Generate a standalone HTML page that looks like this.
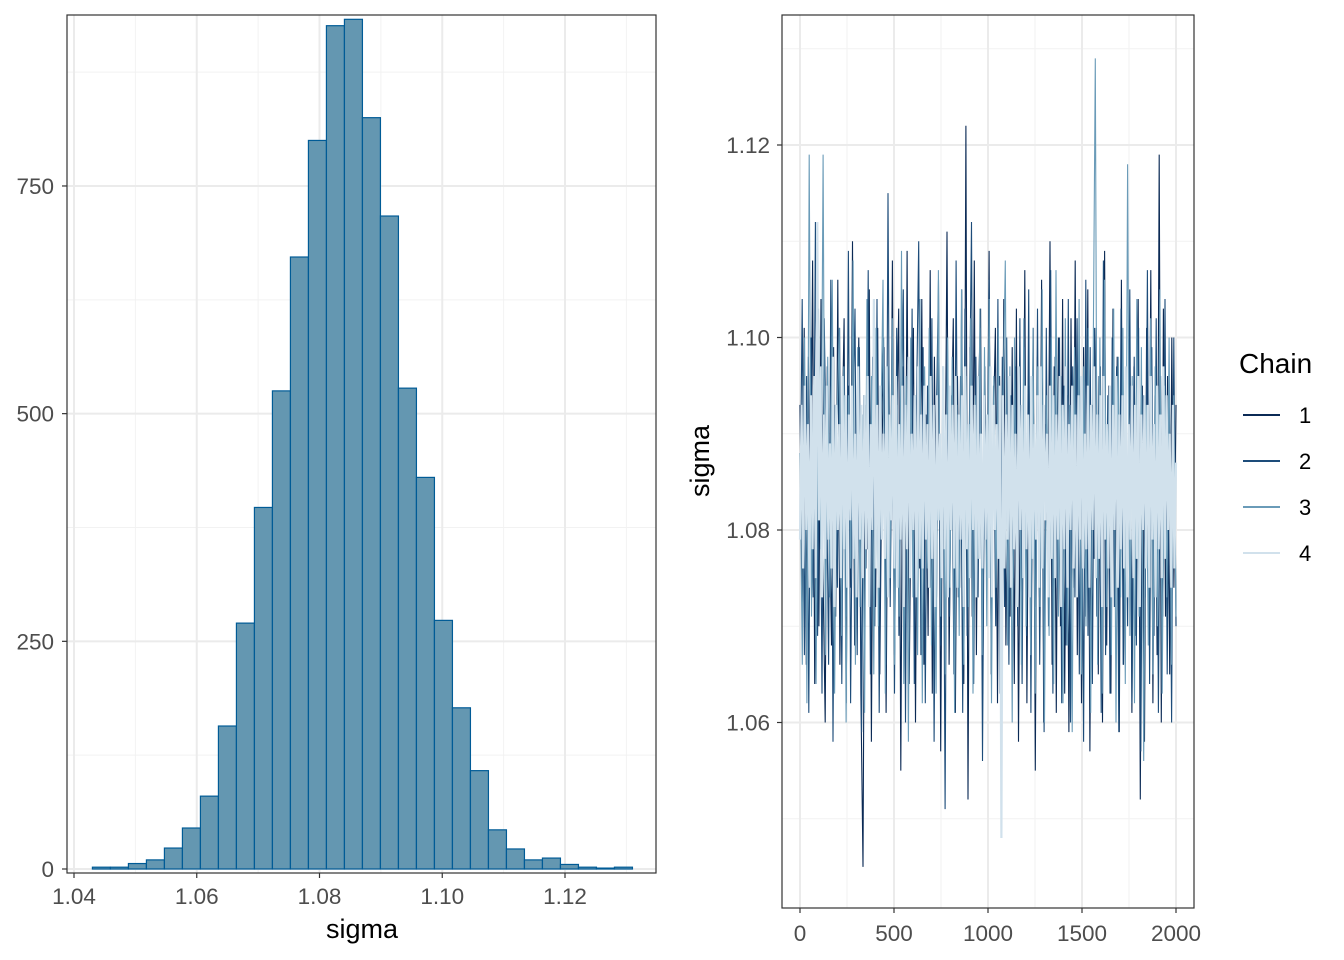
<!DOCTYPE html>
<html><head><meta charset="utf-8"><style>
html,body{margin:0;padding:0;background:#fff;}
svg{display:block;font-family:"Liberation Sans",sans-serif;}
</style></head><body>
<svg id="chart" width="1344" height="960" viewBox="0 0 1344 960">
<g id="hist"></g>
<g id="trace"></g>
<g id="legend">
<text x="1239" y="373" font-size="28" fill="#000">Chain</text>
</g>
</svg>
<script>
// Histogram data
const binStart = 1.0430;
const binWidth = 0.002933;
const histCounts = [2,2,6,10,23,45,80,157,270,397,525,672,800,926,933,825,717,528,430,273,177,108,43,22,10,12,5,2,1,2];
const histXTicks = [1.04,1.06,1.08,1.10,1.12];
const histXTickLabels = ["1.04","1.06","1.08","1.10","1.12"];
const histYTicks = [0,250,500,750];
// Trace data (thinned draws per chain)
const traceXTicks = [0,500,1000,1500,2000];
const traceYTicks = [1.06,1.08,1.10,1.12];
const traceYTickLabels = ["1.06","1.08","1.10","1.12"];
const nIter = 2000;
const chain1 = [1.093,1.072,1.101,1.066,1.098,1.079,1.108,1.064,1.091,1.070,1.104,1.075,1.060,1.097,1.083,1.068,1.099,1.071,1.106,1.066,1.089,1.102,1.062,1.095,1.074,1.110,1.068,1.087,1.100,1.063,1.045,1.093,1.078,1.105,1.058,1.096,1.072,1.101,1.065,1.088,1.099,1.061,1.094,1.077,1.108,1.067,1.090,1.103,1.055,1.097,1.070,1.109,1.064,1.086,1.101,1.060,1.095,1.076,1.104,1.066,1.092,1.069,1.107,1.063,1.098,1.073,1.100,1.057,1.093,1.080,1.111,1.066,1.089,1.102,1.061,1.096,1.074,1.105,1.064,1.122,1.052,1.099,1.071,1.108,1.067,1.094,1.103,1.063,1.097,1.078,1.109,1.065,1.090,1.101,1.062,1.096,1.073,1.104,1.068,1.087,1.071,1.099,1.064,1.103,1.058,1.092,1.076,1.107,1.062,1.095,1.069,1.101,1.055,1.098,1.073,1.106,1.060,1.091,1.078,1.110,1.066,1.097,1.061,1.100,1.070,1.104,1.063,1.094,1.059,1.102,1.074,1.108,1.067,1.096,1.062,1.099,1.071,1.105,1.057,1.093,1.077,1.101,1.065,1.097,1.060,1.109,1.068,1.095,1.063,1.103,1.072,1.098,1.059,1.106,1.066,1.092,1.075,1.100,1.061,1.097,1.069,1.104,1.052,1.095,1.058,1.101,1.073,1.107,1.062,1.094,1.067,1.119,1.060,1.103,1.071,1.096,1.065,1.100,1.074,1.093];
const chain2 = [1.080,1.104,1.067,1.096,1.061,1.100,1.073,1.112,1.069,1.095,1.063,1.102,1.087,1.066,1.106,1.058,1.093,1.074,1.101,1.064,1.097,1.071,1.109,1.062,1.090,1.103,1.067,1.099,1.059,1.094,1.076,1.107,1.065,1.098,1.070,1.104,1.061,1.092,1.100,1.066,1.115,1.072,1.096,1.063,1.101,1.069,1.088,1.105,1.060,1.097,1.075,1.103,1.064,1.093,1.110,1.067,1.099,1.062,1.095,1.074,1.102,1.058,1.091,1.106,1.068,1.097,1.051,1.100,1.071,1.094,1.065,1.108,1.073,1.096,1.061,1.103,1.069,1.090,1.112,1.064,1.098,1.073,1.101,1.056,1.093,1.076,1.106,1.066,1.095,1.070,1.104,1.063,1.098,1.072,1.100,1.066,1.094,1.075,1.097,1.070,1.102,1.064,1.099,1.069,1.105,1.061,1.096,1.072,1.103,1.066,1.094,1.059,1.101,1.070,1.107,1.063,1.098,1.074,1.100,1.062,1.095,1.068,1.104,1.060,1.097,1.073,1.102,1.065,1.093,1.058,1.106,1.069,1.099,1.064,1.101,1.071,1.096,1.061,1.108,1.067,1.094,1.063,1.100,1.072,1.097,1.059,1.103,1.066,1.095,1.070,1.105,1.062,1.098,1.068,1.101,1.057,1.094,1.073,1.107,1.064,1.099,1.069,1.102,1.061,1.096,1.071,1.104,1.065,1.093,1.060,1.100,1.070];
const chain3 = [1.088,1.066,1.100,1.062,1.119,1.071,1.095,1.064,1.103,1.078,1.119,1.067,1.098,1.073,1.106,1.063,1.091,1.101,1.069,1.097,1.060,1.094,1.076,1.108,1.066,1.099,1.072,1.092,1.061,1.104,1.074,1.096,1.065,1.101,1.070,1.089,1.106,1.063,1.097,1.075,1.102,1.066,1.093,1.071,1.109,1.064,1.096,1.058,1.100,1.073,1.094,1.067,1.104,1.062,1.097,1.076,1.101,1.068,1.092,1.063,1.107,1.071,1.095,1.065,1.100,1.074,1.098,1.061,1.093,1.069,1.105,1.066,1.096,1.072,1.102,1.063,1.094,1.077,1.103,1.067,1.099,1.070,1.104,1.062,1.096,1.074,1.101,1.065,1.093,1.108,1.068,1.097,1.060,1.100,1.073,1.095,1.066,1.102,1.070,1.091,1.067,1.101,1.063,1.097,1.072,1.105,1.060,1.094,1.069,1.100,1.064,1.107,1.071,1.096,1.062,1.102,1.068,1.093,1.059,1.099,1.074,1.104,1.065,1.097,1.070,1.101,1.061,1.095,1.129,1.066,1.100,1.063,1.106,1.072,1.094,1.067,1.103,1.060,1.098,1.073,1.101,1.064,1.118,1.069,1.096,1.062,1.104,1.071,1.099,1.056,1.093,1.068,1.102,1.065,1.097,1.070,1.105,1.063,1.095,1.073,1.100,1.066,1.094,1.071];
const chain4 = [1.079,1.093,1.076,1.095,1.080,1.091,1.074,1.094,1.078,1.096,1.075,1.112,1.081,1.097,1.073,1.092,1.077,1.095,1.079,1.089,
1.076,1.098,1.072,1.093,1.080,1.091,1.075,1.096,1.078,1.094,1.074,1.092,1.081,1.095,1.077,1.090,1.073,1.097,1.079,1.093,
1.075,1.094,1.078,1.096,1.072,1.091,1.080,1.104,1.076,1.093,1.074,1.095,1.079,1.090,1.077,1.097,1.073,1.092,1.081,1.094,
1.076,1.096,1.074,1.091,1.079,1.095,1.072,1.093,1.078,1.098,1.075,1.090,1.080,1.094,1.073,1.097,1.077,1.092,1.076,1.095,
1.079,1.091,1.074,1.096,1.077,1.093,1.072,1.094,1.081,1.090,1.075,1.097,1.078,1.092,1.073,1.095,1.080,1.093,1.076,1.096,
1.074,1.092,1.079,1.094,1.072,1.097,1.078,1.091,1.075,1.095,1.080,1.093,1.073,1.096,1.077,1.090,1.076,1.094,1.079,1.092,
1.075,1.097,1.073,1.093,1.080,1.091,1.077,1.095,1.048,1.094,1.076,1.092,1.079,1.096,1.074,1.093,1.078,1.090,1.072,1.097,
1.080,1.093,1.075,1.095,1.078,1.092,1.073,1.096,1.077,1.091,1.079,1.094,1.074,1.097,1.076,1.093,1.081,1.090,1.073,1.095,
1.077,1.094,1.075,1.092,1.079,1.096,1.072,1.093,1.078,1.097,1.074,1.091,1.080,1.095,1.076,1.092,1.073,1.094,1.079,1.096,
1.076,1.090,1.078,1.095,1.074,1.093,1.080,1.097,1.075,1.092,1.077,1.094,1.072,1.096,1.079,1.091,1.076,1.095,1.073,1.093,
1.080,1.096,1.074,1.092,1.078,1.094,1.076,1.097,1.073,1.091,1.079,1.095,1.075,1.093,1.077,1.096,1.072,1.092,1.080,1.094,
1.076,1.093,1.074,1.096,1.079,1.091,1.073,1.095,1.078,1.092,1.075,1.097,1.077,1.094,1.080,1.090,1.074,1.093,1.076,1.087];
const chainColors = ["#0b2a55","#1d4c7a","#6a9bb8","#d1e1ec"];

const NS = "http://www.w3.org/2000/svg";
function mk(tag, attrs, parent){ const e=document.createElementNS(NS,tag); for(const k in attrs) e.setAttribute(k,attrs[k]); parent.appendChild(e); return e; }

// ---- Histogram panel ----
const H = document.getElementById('hist');
const hL=67,hR=656,hT=15,hB=873;
const hx = v => 74 + (v-1.04)*6137.5;
const hy = c => 869 - c*0.9107;
[1.05,1.07,1.09,1.11,1.13].forEach(v=>{ if(hx(v)<hR){ const l=mk('line',{x1:hx(v),x2:hx(v),y1:hT,y2:hB,stroke:'#f2f2f2','stroke-width':1},H);

 }});
[125,375,625,875].forEach(v=>{ const l=mk('line',{x1:hL,x2:hR,y1:hy(v),y2:hy(v),stroke:'#f2f2f2','stroke-width':1},H);

 });
histXTicks.forEach(v=>{ const l=mk('line',{x1:hx(v),x2:hx(v),y1:hT,y2:hB,stroke:'#ebebeb','stroke-width':2},H);

 });
histYTicks.forEach(v=>{ const l=mk('line',{x1:hL,x2:hR,y1:hy(v),y2:hy(v),stroke:'#ebebeb','stroke-width':2},H);

 });
histCounts.forEach((c,i)=>{
  const x0=hx(binStart+i*binWidth), x1=hx(binStart+(i+1)*binWidth);
  const r=mk('rect',{x:x0,y:hy(c),width:x1-x0,height:hy(0)-hy(c),fill:'#6497b1',stroke:'#005b96','stroke-width':1.2},H);
  
  
});
const hb=mk('rect',{x:hL,y:hT,width:hR-hL,height:hB-hT,fill:'none',stroke:'#333','stroke-width':1.2},H);


histXTicks.forEach((v,i)=>{
  mk('line',{x1:hx(v),x2:hx(v),y1:hB,y2:hB+5,stroke:'#333','stroke-width':1.2},H);
  const t=mk('text',{x:hx(v),y:904,'font-size':22.5,fill:'#4d4d4d','text-anchor':'middle'},H); t.textContent=histXTickLabels[i];
  
  
});
histYTicks.forEach(v=>{
  mk('line',{x1:hL-5,x2:hL,y1:hy(v),y2:hy(v),stroke:'#333','stroke-width':1.2},H);
  const t=mk('text',{x:hL-13,y:hy(v)+8,'font-size':22.5,fill:'#4d4d4d','text-anchor':'end'},H); t.textContent=String(v);
  
  
});
const hxt=mk('text',{x:362,y:938,'font-size':27,fill:'#000','text-anchor':'middle'},H); hxt.textContent='sigma';



// ---- Trace panel ----
const T = document.getElementById('trace');
const tL=782,tR=1194,tT=15,tB=908;
const tx = i => 800 + i*0.188;
const ty = v => 530 - (v-1.08)*9625;
[250,750,1250,1750].forEach(v=>{ const l=mk('line',{x1:tx(v),x2:tx(v),y1:tT,y2:tB,stroke:'#f2f2f2','stroke-width':1},T);

 });
[1.05,1.07,1.09,1.11,1.13].forEach(v=>{ const l=mk('line',{x1:tL,x2:tR,y1:ty(v),y2:ty(v),stroke:'#f2f2f2','stroke-width':1},T);

 });
traceXTicks.forEach(v=>{ const l=mk('line',{x1:tx(v),x2:tx(v),y1:tT,y2:tB,stroke:'#ebebeb','stroke-width':2},T);

 });
traceYTicks.forEach(v=>{ const l=mk('line',{x1:tL,x2:tR,y1:ty(v),y2:ty(v),stroke:'#ebebeb','stroke-width':2},T);

 });
[chain1,chain2,chain3,chain4].forEach((arr,ci)=>{
  const n=arr.length;
  const pts=arr.map((v,i)=>tx(i*nIter/(n-1)).toFixed(1)+','+ty(v).toFixed(1)).join(' ');
  const p=mk('polyline',{points:pts,fill:'none',stroke:chainColors[ci],'stroke-width':ci==3?2.2:1.1},T);
  
  
});
const tb=mk('rect',{x:tL,y:tT,width:tR-tL,height:tB-tT,fill:'none',stroke:'#333','stroke-width':1.2},T);


traceXTicks.forEach(v=>{
  mk('line',{x1:tx(v),x2:tx(v),y1:tB,y2:tB+5,stroke:'#333','stroke-width':1.2},T);
  const t=mk('text',{x:tx(v),y:941,'font-size':22.5,fill:'#4d4d4d','text-anchor':'middle'},T); t.textContent=String(v);
  
  
});
traceYTicks.forEach((v,i)=>{
  mk('line',{x1:tL-5,x2:tL,y1:ty(v),y2:ty(v),stroke:'#333','stroke-width':1.2},T);
  const t=mk('text',{x:tL-12,y:ty(v)+8,'font-size':22.5,fill:'#4d4d4d','text-anchor':'end'},T); t.textContent=traceYTickLabels[i];
  
  
});
const tyt=mk('text',{x:0,y:0,'font-size':27,fill:'#000','text-anchor':'middle',transform:'translate(709,461) rotate(-90)'},T); tyt.textContent='sigma';



// ---- Legend ----
const L=document.getElementById('legend');
chainColors.forEach((c,i)=>{
  const y=415+i*46;
  const ln=mk('line',{x1:1243,x2:1280,y1:y,y2:y,stroke:c,'stroke-width':2},L);
  
  
  const t=mk('text',{x:1299,y:y+8,'font-size':22,fill:'#000'},L); t.textContent=String(i+1);
  
  
});
</script>
</body></html>
